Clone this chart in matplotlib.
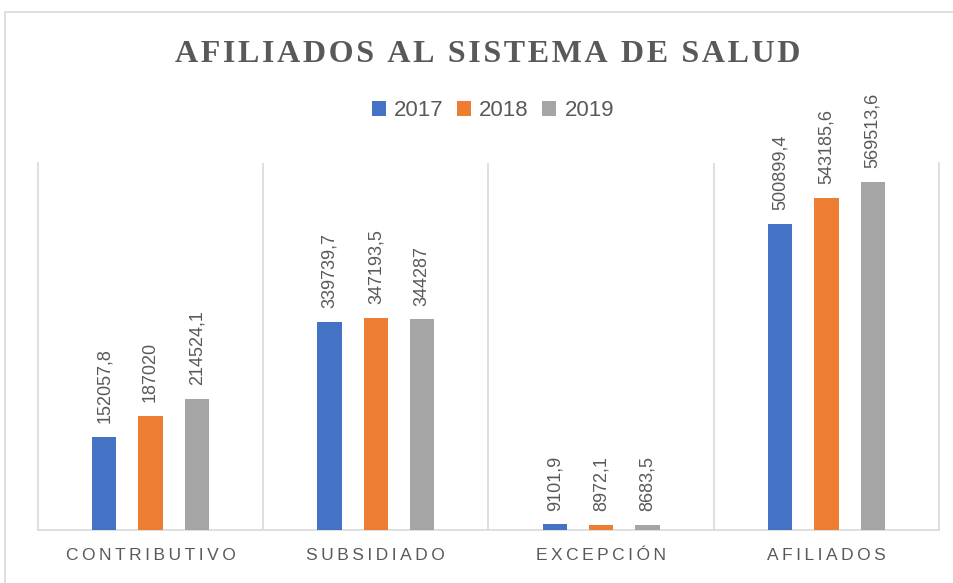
import numpy as np
import matplotlib.pyplot as plt
from matplotlib.patches import Rectangle

# data
categories = ['CONTRIBUTIVO', 'SUBSIDIADO', 'EXCEPCIÓN', 'AFILIADOS']
years = ['2017', '2018', '2019']
v2017 = [152057.8, 339739.7, 9101.9, 500899.4]
v2018 = [187020, 347193.5, 8972.1, 543185.6]
v2019 = [214524.1, 344287, 8683.5, 569513.6]

colors = ['#4472C4', '#ED7D31', '#A5A5A5']
grid_c = '#D9D9D9'
text_c = '#595959'

fig = plt.figure(figsize=(9.54, 5.83), dpi=100)
ax = fig.add_axes([38/954, 53/583, 901/954, 367/583])

# chart border
fig.patches.append(Rectangle((5/954, -0.1), 1.2, (583-12)/583 + 0.1,
                             transform=fig.transFigure, fill=False,
                             edgecolor=grid_c, lw=1.2))

x = np.arange(len(categories))
step = 0.206
width = 0.108
for i, (vals, lab) in enumerate(zip([v2017, v2018, v2019], years)):
    pos = x + (i - 1) * step
    bars = ax.bar(pos, vals, width, color=colors[i], label=lab, zorder=3)
    for b, v in zip(bars, vals):
        txt = ('%.1f' % v).replace('.', ',')
        if txt.endswith(',0'):
            txt = txt[:-2]
        ax.annotate(txt, (b.get_x() + b.get_width()/2, b.get_height()),
                    xytext=(0, 10), textcoords='offset points',
                    rotation=90, ha='center', va='bottom',
                    fontsize=13, color=text_c, family='Liberation Sans')

ax.set_xlim(-0.5, 3.5)
ax.set_ylim(0, 600000)
ax.set_yticks([])
ax.set_xticks(x)
ax.set_xticklabels(['\u2009'.join(c) for c in categories], fontsize=12.5,
                   color=text_c, family=['Liberation Sans', 'DejaVu Sans'])
ax.tick_params(axis='x', length=0, pad=13)
for b in [0.5, 1.5, 2.5]:
    ax.axvline(b, color=grid_c, lw=1.2, zorder=1)
for s in ['left', 'right', 'bottom']:
    ax.spines[s].set_color(grid_c)
    ax.spines[s].set_linewidth(1.2)
ax.spines['top'].set_visible(False)

fig.text(0.5115, 1 - 54/583, '\u200a'.join('AFILIADOS AL SISTEMA DE SALUD'),
         ha='center', va='center', fontsize=23, fontweight='bold',
         color=text_c, family=['Liberation Serif', 'DejaVu Serif'])

fig.legend(loc='center', bbox_to_anchor=(493/954, 1 - 111/583), ncol=3,
           frameon=False, prop={'family': 'Liberation Sans', 'size': 16},
           labelcolor=text_c, handlelength=0.62, handleheight=0.62,
           handletextpad=0.38, columnspacing=0.6)

fig.savefig('out.png', dpi=100)
